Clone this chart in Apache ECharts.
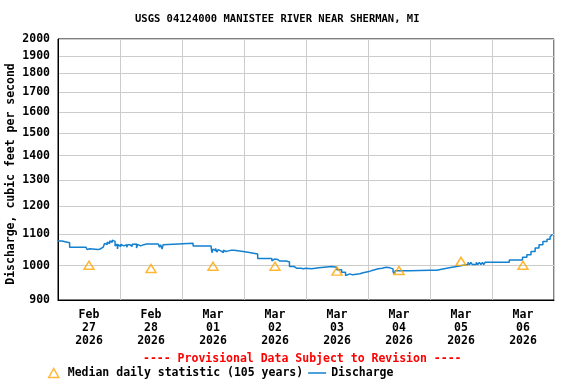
<!DOCTYPE html>
<html><head><meta charset="utf-8">
<script src="https://cdn.jsdelivr.net/npm/echarts@6/dist/echarts.min.js"></script>
<style>html,body{margin:0;padding:0;background:#fff}#c{width:576px;height:384px}</style>
</head><body><div id="c"></div>
<script>
const FONT = '"DejaVu Sans Mono", monospace';
const titleText = 'USGS 04124000 MANISTEE RIVER NEAR SHERMAN, MI';
const yAxisTitle = 'Discharge, cubic feet per second';
const provisionalText = '---- Provisional Data Subject to Revision ----';
const medianName = 'Median daily statistic (105 years)';
const dischargeName = 'Discharge';
const dayCount = 8;
const dayLabels = [['Feb','27','2026'],['Feb','28','2026'],['Mar','01','2026'],['Mar','02','2026'],['Mar','03','2026'],['Mar','04','2026'],['Mar','05','2026'],['Mar','06','2026']];
const yTicks = [900,1000,1100,1200,1300,1400,1500,1600,1700,1800,1900,2000];
// hours since Feb 27 2026 00:00
const dischargeHours = [
 0,1.5,4.5,10.8,11.3,11.8,12.2,15.5,16.3,17.5,18,18.5,19,19.6,20,20.5,21,21.5,22.1,22.5,23,23.3,23.8,
 24.3,25,25.5,26,26.6,27,27.8,28.3,28.7,29.5,30,30.4,30.8,31.5,32,32.6,33.2,33.8,34.3,35,35.5,36,36.6,37.2,37.8,38.3,38.8,39.3,39.7,40.3,40.7,41.4,
 52.3,59.3,59.6,60,60.5,61,61.5,62,62.5,63,63.5,64,64.5,65,65.5,66,66.5,67,67.5,68.2,73,
 77.3,82.8,83.3,83.8,84.5,85,85.8,86.3,87,87.5,88.4,89.6,91.5,92.3,92.7,94,95,
 96,98.2,101,103,106,107.9,109.8,111.3,111.7,113,114,116.9,118.1,120.8,
 121.9,124,125.5,127,128.5,129.7,130.2,130.5,136.3,140,144,
 146.6,148.5,152,154.3,156.4,158.7,159.3,159.8,160.4,161.9,162.5,163.1,163.7,164.3,164.8,165.3,
 174.7,179.8,181.5,183.1,184.7,186.2,187.7,189.3,190.5,191.2,191.5
];
const dischargeValues = [
 1078,1072,1058,1053,1050,1053,1050,1052,1058,1064,1070,1066,1074,1070,1078,1074,1081,1077,1062,1068,1052,1066,1060,
 1067,1062,1068,1066,1058,1066,1068,1060,1067,1062,1068,1055,1067,1062,1068,1066,1062,1068,1066,1068,1062,1068,1066,1068,1062,1068,1066,1058,1066,1052,1066,1071,
 1062,1055,1040,1052,1046,1054,1042,1050,1046,1052,1040,1048,1044,1050,1046,1052,1048,1054,1048,1042,1036,
 1022,1014,1020,1014,1019,1014,1020,1014,1019,1014,1011,997,992,989,992,990,992,
 990,993,995,997,995,987,980,970,975,972,975,978,983,986,
 990,992,995,993,990,981,975,984,985,986,986,
 989,994,997,1000,1003,1010,1003,1010,1003,1010,1003,1010,1003,1010,1003,1010,
 1017,1026,1034,1044,1055,1066,1076,1084,1092,1099,1100
];
const medianHours = [12, 36, 60, 84, 108, 132, 156, 180];
const medianValues = [1001, 991, 998, 998, 983, 985, 1013, 1001];

const dischargeData = dischargeHours.map((h, i) => [h, dischargeValues[i]]);
const medianData = medianValues.map((v, i) => [medianHours[i], v]);

const LINE_COLOR = '#1380d0';
const MED_COLOR = '#ffa500';
const chart = echarts.init(document.getElementById('c'), null, {renderer: 'canvas'});
const txt = {fontFamily: FONT, fontWeight: 'bold', fontSize: 11.5, color: '#000'};
chart.setOption({
  animation: false,
  backgroundColor: '#fff',
  title: [
    {text: titleText, left: 135, top: 14, padding: 0, textStyle: {fontFamily: FONT, fontWeight: 'bold', fontSize: 10.5, color: '#000'}},
    {text: provisionalText, left: 143, top: 353, padding: 0, textStyle: Object.assign({}, txt, {color: '#ff0000'})}
  ],
  grid: {left: 58, right: 22, top: 39, bottom: 84, show: true, borderColor: '#000', borderWidth: 1, outerBoundsMode: 'none'},
  legend: {
    left: 48, top: 367, padding: 0, itemGap: 5, itemWidth: 18, itemHeight: 9,
    textStyle: txt,
    data: [
      {name: medianName, icon: 'path://M5,0L10,9L0,9Z', itemStyle: {color: 'transparent', borderColor: MED_COLOR, borderWidth: 1.5}},
      {name: dischargeName, icon: 'path://M0,0L18,0L18,1.5L0,1.5Z', itemStyle: {color: LINE_COLOR, borderWidth: 0}}
    ]
  },
  xAxis: {
    type: 'value', min: 0, max: dayCount * 24, interval: 24,
    axisLine: {show: true, lineStyle: {color: '#000', width: 1}},
    axisTick: {show: false},
    splitLine: {show: true, lineStyle: {color: '#cccccc', width: 1}},
    axisLabel: {
      customValues: medianHours, margin: 9, lineHeight: 13,
      fontFamily: FONT, fontWeight: 'bold', fontSize: 11.5, color: '#000',
      formatter: v => (dayLabels[Math.floor(v / 24)] || []).join('\n')
    }
  },
  yAxis: {
    type: 'log', logBase: 10, min: 900, max: 2000,
    axisLine: {show: true, lineStyle: {color: '#000', width: 1}},
    axisTick: {show: false, customValues: yTicks},
    splitLine: {show: true, lineStyle: {color: '#cccccc', width: 1}},
    axisLabel: {customValues: yTicks, margin: 8, padding: [3, 0, 0, 0], fontFamily: FONT, fontWeight: 'bold', fontSize: 11.5, color: '#000',
      formatter: v => String(Math.round(v))}
  },
  graphic: [{
    type: 'text', x: 11, y: 174, rotation: Math.PI / 2,
    style: {text: yAxisTitle, font: 'bold 11.5px "DejaVu Sans Mono"', fill: '#000', align: 'center', verticalAlign: 'middle'}
  }],
  series: [
    {name: dischargeName, type: 'line', data: dischargeData, step: 'end', symbol: 'none', showSymbol: false,
      lineStyle: {color: LINE_COLOR, width: 1.5}, itemStyle: {color: LINE_COLOR}, z: 2},
    {name: medianName, type: 'scatter', data: medianData, symbol: 'triangle', symbolSize: [10, 8],
      itemStyle: {color: 'transparent', borderColor: MED_COLOR, borderWidth: 1.5}, z: 3}
  ]
});
</script></body></html>
